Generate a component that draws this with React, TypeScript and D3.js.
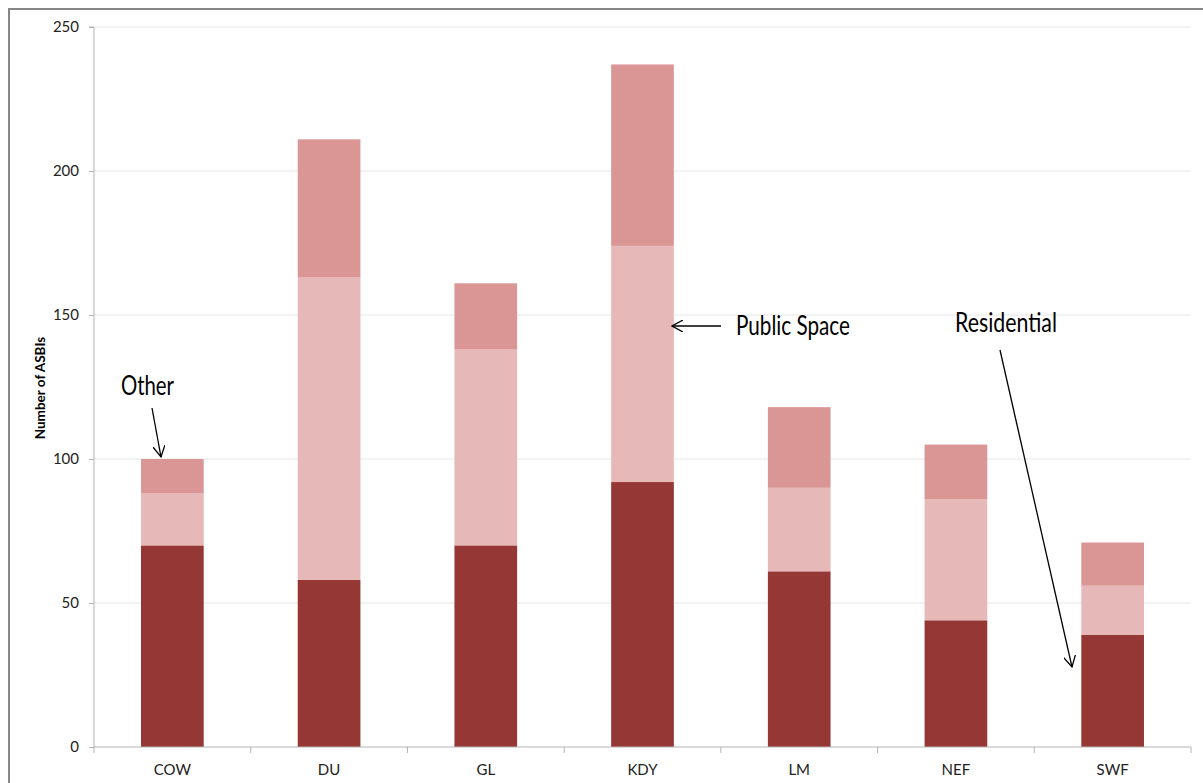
import * as d3 from 'd3'
import { useEffect, useRef } from 'react'

const categories = ['COW', 'DU', 'GL', 'KDY', 'LM', 'NEF', 'SWF']
const residential = [70, 58, 70, 92, 61, 44, 39]
const publicSpace = [18, 105, 68, 82, 29, 42, 17]
const other = [12, 48, 23, 63, 28, 19, 15]
const seriesKeys = ['residential', 'publicSpace', 'other']
const seriesColors = ['#953735', '#E6B9B8', '#D99694']
const yTicks = [0, 50, 100, 150, 200, 250]

export default function App() {
  const svgRef = useRef<SVGSVGElement>(null)

  useEffect(() => {
    if (!svgRef.current) return
    d3.select(svgRef.current).selectAll('*').remove()

    const width = 1203
    const height = 783
    const svg = d3.select(svgRef.current).attr('width', width).attr('height', height)
    const font = 'Lato, "Open Sans", sans-serif'

    // outer chart border
    svg
      .append('rect')
      .attr('x', 9)
      .attr('y', 9)
      .attr('width', 1400)
      .attr('height', 1000)
      .attr('fill', 'white')
      .attr('stroke', '#878787')
      .attr('stroke-width', 2)

    const left = 94
    const right = 1191
    const top = 27
    const bottom = 747

    const x = d3
      .scaleBand()
      .domain(categories)
      .range([left, right])
      .paddingInner(0.6)
      .paddingOuter(0.3)
    const y = d3.scaleLinear().domain([0, 250]).range([bottom, top])

    // gridlines
    svg
      .append('g')
      .selectAll('line')
      .data(yTicks.filter(t => t > 0))
      .enter()
      .append('line')
      .attr('x1', left)
      .attr('x2', right)
      .attr('y1', d => y(d))
      .attr('y2', d => y(d))
      .attr('stroke', '#e6e6e6')
      .attr('stroke-width', 1)

    const table = categories.map((c, i) => ({
      cat: c,
      residential: residential[i],
      publicSpace: publicSpace[i],
      other: other[i],
    }))
    const stacked = d3.stack<any>().keys(seriesKeys)(table)

    stacked.forEach((layer, si) => {
      svg
        .append('g')
        .selectAll('rect')
        .data(layer)
        .enter()
        .append('rect')
        .attr('x', d => x(d.data.cat)!)
        .attr('width', x.bandwidth())
        .attr('y', d => y(d[1]))
        .attr('height', d => y(d[0]) - y(d[1]))
        .attr('fill', seriesColors[si])
    })

    // y axis
    const yAxis = svg
      .append('g')
      .attr('transform', `translate(${left},0)`)
      .call(d3.axisLeft(y).tickValues(yTicks).tickSize(5).tickPadding(10))
    yAxis.select('.domain').attr('stroke', '#b3b3b3').attr('d', `M-5,${top}H0V${bottom}`)
    yAxis.selectAll('.tick line').attr('stroke', '#b3b3b3')
    yAxis
      .selectAll('.tick text')
      .attr('fill', '#222')
      .style('font-family', font)
      .style('font-size', '15px')

    // x axis
    const xAxis = svg.append('g').attr('transform', `translate(0,${bottom})`)
    xAxis
      .append('line')
      .attr('x1', left)
      .attr('x2', right)
      .attr('stroke', '#b3b3b3')
      .attr('stroke-width', 1)
    const step = x.step()
    xAxis
      .selectAll('line.sep')
      .data(d3.range(categories.length + 1))
      .enter()
      .append('line')
      .attr('class', 'sep')
      .attr('x1', i => left + i * step)
      .attr('x2', i => left + i * step)
      .attr('y1', 0)
      .attr('y2', 6)
      .attr('stroke', '#b3b3b3')
    xAxis
      .selectAll('text')
      .data(categories)
      .enter()
      .append('text')
      .attr('x', d => x(d)! + x.bandwidth() / 2)
      .attr('y', 28)
      .attr('text-anchor', 'middle')
      .attr('fill', '#222')
      .style('font-family', font)
      .style('font-size', '15px')
      .text(d => d)

    // y axis title
    svg
      .append('text')
      .attr('transform', `translate(45,388) rotate(-90)`)
      .attr('text-anchor', 'middle')
      .style('font-family', font)
      .style('font-size', '13.5px')
      .style('font-weight', 'bold')
      .text('Number of ASBIs')

    // annotations
    const defs = svg.append('defs')
    defs
      .append('marker')
      .attr('id', 'arrow')
      .attr('viewBox', '0 0 12 12')
      .attr('refX', 11)
      .attr('refY', 6)
      .attr('markerWidth', 12)
      .attr('markerHeight', 12)
      .attr('markerUnits', 'userSpaceOnUse')
      .attr('orient', 'auto')
      .append('path')
      .attr('d', 'M0,0L11,6L0,12')
      .attr('fill', 'none')
      .attr('stroke', 'black')
      .attr('stroke-width', 1.3)

    const arrow = (x1: number, y1: number, x2: number, y2: number) =>
      svg
        .append('line')
        .attr('x1', x1)
        .attr('y1', y1)
        .attr('x2', x2)
        .attr('y2', y2)
        .attr('stroke', 'black')
        .attr('stroke-width', 1.3)
        .attr('marker-end', 'url(#arrow)')

    const label = (tx: number, ty: number, t: string, w: number) =>
      svg
        .append('text')
        .attr('x', tx)
        .attr('y', ty)
        .attr('textLength', w)
        .attr('lengthAdjust', 'spacingAndGlyphs')
        .style('font-family', font)
        .style('font-size', '26px')
        .attr('fill', 'black')
        .text(t)

    label(121, 395, 'Other', 53)
    arrow(152, 408, 161, 457)
    label(736, 335, 'Public Space', 114)
    arrow(721, 326, 672, 326)
    label(955, 332, 'Residential', 102)
    arrow(1000, 350, 1072, 667)
  }, [])

  return (
    <div style={{ position: 'absolute', left: 0, top: 0 }}>
      <svg ref={svgRef}></svg>
    </div>
  )
}
